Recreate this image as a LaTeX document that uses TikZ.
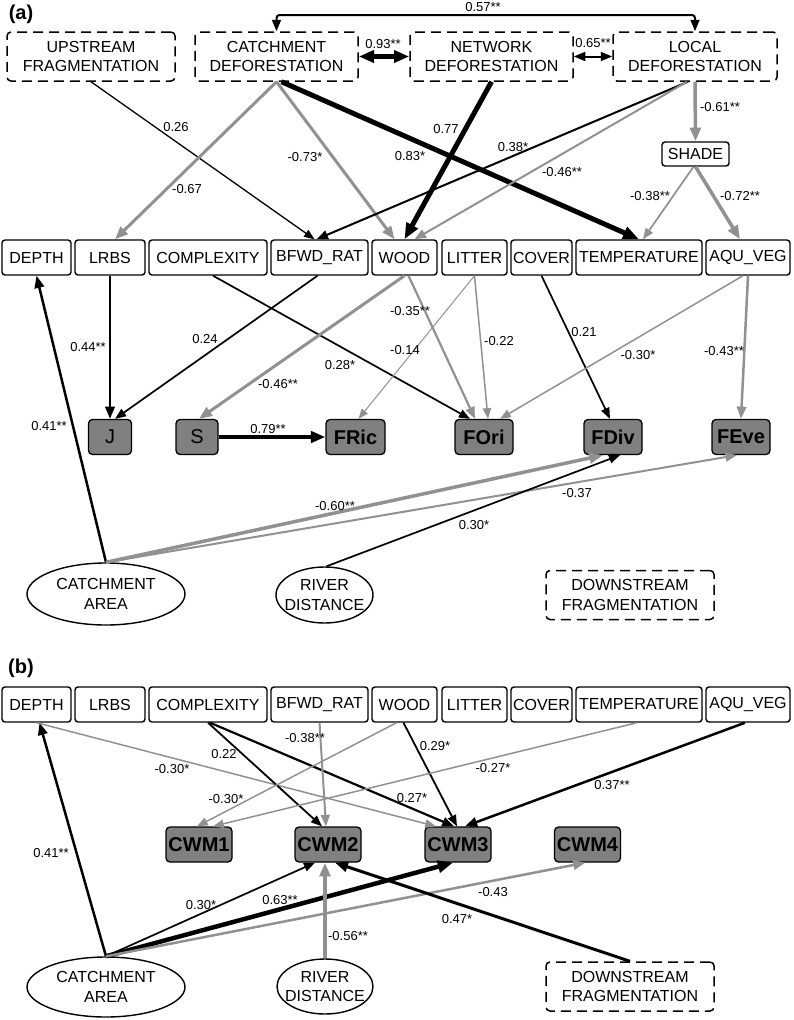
\documentclass[tikz,border=0pt]{standalone}
\usepackage{fontspec}
\setmainfont{Liberation Sans}
\usetikzlibrary{arrows.meta,shapes.geometric}
\definecolor{edgegray}{RGB}{145,145,145}
\definecolor{respgray}{RGB}{128,128,128}
\newcommand\boxfont{\fontsize{16}{19.3}\selectfont}
\newcommand\coeffont{\fontsize{13}{15}\selectfont}
\newcommand\respfont{\fontsize{20}{24}\selectfont}
\tikzset{
  var/.style={draw, line width=1.4pt, rounded corners=3pt, minimum height=35pt, inner sep=0pt, font=\boxfont},
  latent/.style={draw, dash pattern=on 10pt off 6pt, line width=1.5pt, rounded corners=4pt, minimum height=49pt, inner sep=0pt, align=center, font=\boxfont},
  resp/.style={draw, fill=respgray, line width=1.3pt, rounded corners=4pt, minimum height=35pt, inner sep=0pt, font=\respfont\bfseries},
  site/.style={ellipse, draw, line width=1.4pt, inner sep=0pt, inner xsep=-8pt, align=center, font=\boxfont},
  coef/.style={inner sep=0pt, font=\coeffont},
  arr/.style={line width=#1, -{Triangle[length=8.5pt 1.5,width=6.5pt 1.2]}},
  dbl/.style={line width=#1, {Triangle[length=8.5pt 1.5,width=6.5pt 1.2]}-{Triangle[length=8.5pt 1.5,width=6.5pt 1.2]}},
  gline/.style={draw=edgegray},
}
\begin{document}
\begin{tikzpicture}[x=1pt,y=-1pt]
\useasboundingbox (0,0) rectangle (793,1020);
% panel (a)
\node[font=\respfont\bfseries] (panela) at (21,14) {(a)};
\node[latent, minimum width=168pt] (upfrag) at (91,56.5) {UPSTREAM\\FRAGMENTATION};
\node[latent, minimum width=163pt] (catchdef) at (276.5,56.5) {CATCHMENT\\DEFORESTATION};
\node[latent, minimum width=163pt] (netdef) at (491.5,56.5) {NETWORK\\DEFORESTATION};
\node[latent, minimum width=164pt] (locdef) at (695,56.5) {LOCAL\\DEFORESTATION};
\node[var, minimum width=67pt, minimum height=24pt] (shade) at (695.5,154) {SHADE};
\node[var, minimum width=69pt] (depthA) at (36.5,257.5) {DEPTH};
\node[var, minimum width=70pt] (lrbsA) at (110,257.5) {LRBS};
\node[var, minimum width=118pt] (complexA) at (208,257.5) {COMPLEXITY};
\node[var, minimum width=97pt] (bfwdA) at (319.5,257.5) {BFWD\_RAT};
\node[var, minimum width=65pt] (woodA) at (404.5,257.5) {WOOD};
\node[var, minimum width=65pt] (litterA) at (474.5,257.5) {LITTER};
\node[var, minimum width=61pt] (coverA) at (541.5,257.5) {COVER};
\node[var, minimum width=126pt] (tempA) at (639,257.5) {TEMPERATURE};
\node[var, minimum width=84pt] (aquA) at (748,257.5) {AQU\_VEG};
\node[resp, minimum width=43pt, font=\respfont] (J) at (110,437) {J};
\node[resp, minimum width=42pt, font=\respfont] (S) at (197,437) {S};
\node[resp, minimum width=59pt] (FRic) at (355.5,437) {FRic};
\node[resp, minimum width=58pt] (FOri) at (484,437) {FOri};
\node[resp, minimum width=58pt] (FDiv) at (613,437) {FDiv};
\node[resp, minimum width=58pt] (FEve) at (741,437) {FEve};
\node[site, minimum width=158pt, minimum height=62pt] (catchA) at (106,594) {CATCHMENT\\AREA};
\node[site, minimum width=97pt, minimum height=56pt] (riverA) at (324.5,595) {RIVER\\DISTANCE};
\node[latent, minimum width=168pt] (downA) at (630,595) {DOWNSTREAM\\FRAGMENTATION};
\coordinate (topbend) at (695,15);

\draw[dbl=2pt, rounded corners=3pt] (catchdef.north) |- (topbend) -- (locdef.north);
\draw[dbl=4.5pt] (catchdef.east) -- (netdef.west);
\draw[dbl=2pt] (netdef.east) -- (locdef.west);
\draw[arr=1.3pt] (upfrag.south) -- ([xshift=-5pt]bfwdA.north);
\draw[arr=3pt, gline] (catchdef.south) -- ([xshift=5pt]lrbsA.north);
\draw[arr=3pt, gline] (catchdef.south) -- ([xshift=-10pt]woodA.north);
\draw[arr=5pt] ([xshift=5pt]catchdef.south) -- (tempA.north);
\draw[arr=5pt] (netdef.south) -- (woodA.north);
\draw[arr=2pt] ([xshift=-7pt]locdef.south) -- ([xshift=-3pt]bfwdA.north);
\draw[arr=2pt, gline] ([xshift=-8pt]locdef.south) -- ([xshift=10pt]woodA.north);
\draw[arr=3.5pt, gline] (locdef.south) -- (shade.north);
\draw[arr=1.7pt, gline] ([xshift=-2pt]shade.south) -- ([xshift=4pt]tempA.north);
\draw[arr=3.5pt, gline] (shade.south) -- ([xshift=-8pt]aquA.north);
\draw[arr=2.5pt] (lrbsA.south) -- (J.north);
\draw[arr=1.7pt] ([xshift=-2pt]bfwdA.south) -- ([xshift=5pt]J.north);
\draw[arr=1.7pt] ([xshift=5pt]complexA.south) -- ([xshift=-14pt]FOri.north);
\draw[arr=3pt, gline] (woodA.south) -- ([xshift=2pt]S.north);
\draw[arr=2.2pt, gline] ([xshift=4pt]woodA.south) -- ([xshift=-9pt]FOri.north);
\draw[arr=1pt, gline] (litterA.south) -- ([xshift=3pt]FRic.north);
\draw[arr=1.5pt, gline] (litterA.south) -- ([xshift=4pt]FOri.north);
\draw[arr=1.7pt] (coverA.south) -- ([xshift=-3pt]FDiv.north);
\draw[arr=1.5pt, gline] ([xshift=-5pt]aquA.south) -- ([xshift=16pt]FOri.north);
\draw[arr=2.5pt, gline] (aquA.south) -- (FEve.north);
\draw[arr=4pt] (S.east) -- (FRic.west);
\draw[arr=2.5pt] (catchA.north) -- (depthA.south);
\draw[arr=3.5pt, gline] (catchA.north) -- ([xshift=-10pt]FDiv.south);
\draw[arr=2pt, gline] (catchA.north) -- ([xshift=-4pt]FEve.south);
\draw[arr=1.7pt] ([xshift=2pt]riverA.north) -- ([xshift=7pt]FDiv.south);

\node[coef] (la1) at (483,7) {0.57**};
\node[coef] (la2) at (383,44) {0.93**};
\node[coef] (la3) at (593,43) {0.65**};
\node[coef] (la4) at (176,127) {0.26};
\node[coef] (la5) at (187,189) {-0.67};
\node[coef] (la6) at (305,157) {-0.73*};
\node[coef] (la7) at (410,156) {0.83*};
\node[coef] (la8) at (446,129) {0.77};
\node[coef] (la9) at (513,147) {0.38*};
\node[coef] (la10) at (562,172) {-0.46**};
\node[coef] (la11) at (720,107) {-0.61**};
\node[coef] (la12) at (650,196) {-0.38**};
\node[coef] (la13) at (740,196) {-0.72**};
\node[coef] (la14) at (88,347) {0.44**};
\node[coef] (la15) at (205,339) {0.24};
\node[coef] (la16) at (340,365) {0.28*};
\node[coef] (la17) at (278,384) {-0.46**};
\node[coef] (la18) at (410,311) {-0.35**};
\node[coef] (la19) at (405,350) {-0.14};
\node[coef] (la20) at (499,341) {-0.22};
\node[coef] (la21) at (584,332) {0.21};
\node[coef] (la22) at (638,355) {-0.30*};
\node[coef] (la23) at (724,351) {-0.43**};
\node[coef] (la24) at (268,429) {0.79**};
\node[coef] (la25) at (49,426) {0.41**};
\node[coef] (la26) at (335,506) {-0.60**};
\node[coef] (la27) at (577,493) {-0.37};
\node[coef] (la28) at (474,525) {0.30*};

% panel (b)
\node[font=\respfont\bfseries] (panelb) at (21,668) {(b)};
\node[var, minimum width=69pt] (depthB) at (36.5,704.5) {DEPTH};
\node[var, minimum width=70pt] (lrbsB) at (110,704.5) {LRBS};
\node[var, minimum width=118pt] (complexB) at (208,704.5) {COMPLEXITY};
\node[var, minimum width=97pt] (bfwdB) at (319.5,704.5) {BFWD\_RAT};
\node[var, minimum width=65pt] (woodB) at (404.5,704.5) {WOOD};
\node[var, minimum width=65pt] (litterB) at (474.5,704.5) {LITTER};
\node[var, minimum width=61pt] (coverB) at (541.5,704.5) {COVER};
\node[var, minimum width=126pt] (tempB) at (639,704.5) {TEMPERATURE};
\node[var, minimum width=84pt] (aquB) at (748,704.5) {AQU\_VEG};
\node[resp, minimum width=66pt] (cwm1) at (199,844.5) {CWM1};
\node[resp, minimum width=66pt] (cwm2) at (328,844.5) {CWM2};
\node[resp, minimum width=66pt] (cwm3) at (458,844.5) {CWM3};
\node[resp, minimum width=66pt] (cwm4) at (587.5,844.5) {CWM4};
\node[site, minimum width=158pt, minimum height=60pt] (catchB) at (106,987) {CATCHMENT\\AREA};
\node[site, minimum width=96pt, minimum height=55pt] (riverB) at (325,986.5) {RIVER\\DISTANCE};
\node[latent, minimum width=168pt] (downB) at (630,986.5) {DOWNSTREAM\\FRAGMENTATION};

\draw[arr=2.5pt] (catchB.north) -- ([xshift=3pt]depthB.south);
\draw[arr=1.5pt, gline] (depthB.south) -- ([xshift=-22pt]cwm3.north);
\draw[arr=1.8pt] (complexB.south) -- ([xshift=-6pt]cwm2.north);
\draw[arr=2.2pt] ([xshift=2pt]complexB.south) -- ([xshift=-4pt]cwm3.north);
\draw[arr=2pt, gline] (bfwdB.south) -- ([xshift=-2pt]cwm2.north);
\draw[arr=1.5pt, gline] ([xshift=-8pt]woodB.south) -- ([xshift=-2pt]cwm1.north);
\draw[arr=1.8pt] ([xshift=-1pt]woodB.south) -- ([xshift=-1pt]cwm3.north);
\draw[arr=1.5pt, gline] ([xshift=-2pt]tempB.south) -- ([xshift=14pt]cwm1.north);
\draw[arr=2.5pt] ([xshift=-3pt]aquB.south) -- ([xshift=7pt]cwm3.north);
\draw[arr=1.7pt] (catchB.north) -- ([xshift=-13pt]cwm2.south);
\draw[arr=4.5pt] (catchB.north) -- ([xshift=-5pt]cwm3.south);
\draw[arr=2.5pt, gline] (catchB.north) -- ([xshift=-2pt]cwm4.south);
\draw[arr=3.5pt, gline] (riverB.north) -- ([xshift=-3pt]cwm2.south);
\draw[arr=3pt] (downB.north) -- ([xshift=7pt]cwm2.south);

\node[coef] (lb1) at (51,853) {0.41**};
\node[coef] (lb2) at (172,769) {-0.30*};
\node[coef] (lb3) at (224,754) {0.22};
\node[coef] (lb4) at (305,738) {-0.38**};
\node[coef] (lb5) at (226,799) {-0.30*};
\node[coef] (lb6) at (435,746) {0.29*};
\node[coef] (lb7) at (493,768) {-0.27*};
\node[coef] (lb8) at (412,798) {0.27*};
\node[coef] (lb9) at (612,785) {0.37**};
\node[coef] (lb10) at (201,905) {0.30*};
\node[coef] (lb11) at (280,900) {0.63**};
\node[coef] (lb12) at (348,936) {-0.56**};
\node[coef] (lb13) at (493,892) {-0.43};
\node[coef] (lb14) at (457,919) {0.47*};
\end{tikzpicture}
\end{document}
